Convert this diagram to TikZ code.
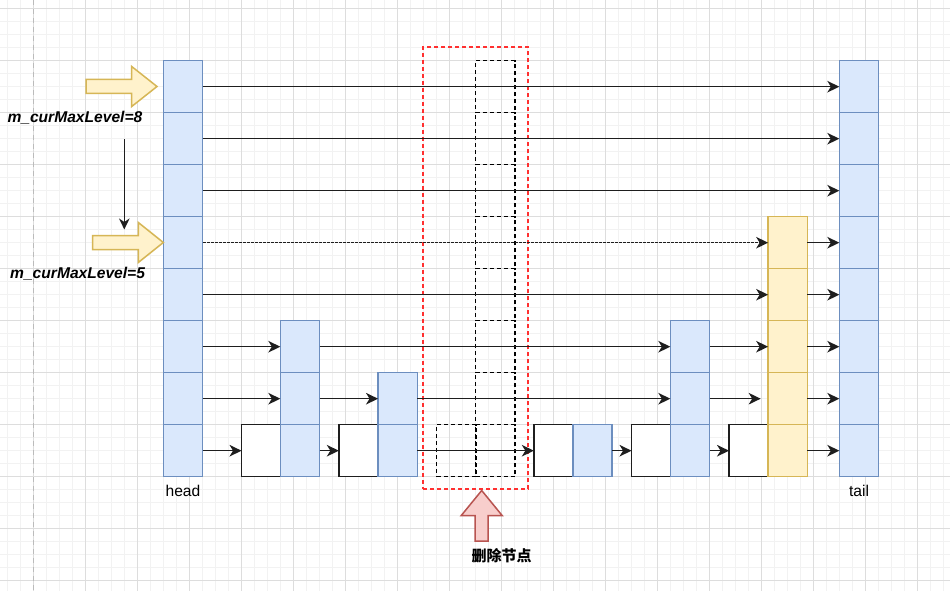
\documentclass[tikz,border=0pt]{standalone}
\usepackage{fontspec}
\setmainfont{Liberation Sans}
\newfontfamily\cjk{Noto Sans CJK SC}
\usetikzlibrary{arrows.meta}
\definecolor{bfill}{HTML}{DAE8FC}
\definecolor{bline}{HTML}{6C8EBF}
\definecolor{yfill}{HTML}{FFF2CC}
\definecolor{yline}{HTML}{D6B656}
\definecolor{rfill}{HTML}{F8CECC}
\definecolor{rline}{HTML}{B85450}
\definecolor{gmin}{HTML}{F2F2F2}
\definecolor{gmaj}{HTML}{DDDDDD}
\definecolor{pagebrk}{HTML}{BBBBBB}
\definecolor{delred}{HTML}{FF3030}
\definecolor{ink}{HTML}{1E1E1E}
\begin{document}
\begin{tikzpicture}[x=1pt,y=-1pt,
  cell/.style={minimum width=39.3pt,minimum height=52pt,inner sep=0pt,outer sep=0pt,line width=1.5pt},
  bcell/.style={cell,draw=bline,fill=bfill},
  ycell/.style={cell,draw=yline,fill=yfill},
  wcell/.style={cell,draw=ink,fill=white},
  dcell/.style={cell,draw=black,dash pattern=on 4pt off 3pt},
  arr/.style={-{Stealth[length=12pt,width=11.5pt,inset=3.5pt]},line width=1.5pt,draw=ink},
  densedash/.style={dash pattern=on 3pt off 1pt},
  lbl/.style={inner sep=0pt,font=\fontsize{15.6}{18}\selectfont},
  blockarrow/.style={line width=1.5pt,line join=miter},
  delframe/.style={draw=delred,line width=1.8pt,dash pattern=on 4pt off 3pt,inner sep=0pt,outer sep=0pt}
]
\useasboundingbox (0,0) rectangle (950,591);
\fill[white] (0,0) rectangle (950,591);
% grid
\foreach \k in {-2,...,70} \draw[gmin,line width=1.3pt] ({33.7+13*\k},0) -- ({33.7+13*\k},591);
\foreach \k in {0,...,44} \draw[gmin,line width=1.3pt] (0,{8.3+13*\k}) -- (950,{8.3+13*\k});
\foreach \k in {-1,...,17} \draw[gmaj,line width=1.3pt] ({33.7+52*\k},0) -- ({33.7+52*\k},591);
\foreach \k in {0,...,11} \draw[gmaj,line width=1.3pt] (0,{8.3+52*\k}) -- (950,{8.3+52*\k});
\draw[pagebrk,line width=1.3pt,dash pattern=on 5pt off 4pt] (33.5,0) -- (33.5,591);

% deleted node marker
\node[delframe,minimum width=105pt,minimum height=442pt] (delbox) at (475.5,268) {};
\foreach \i in {0,...,7} \node[dcell] (x\i) at (495.2,{86.7+52*\i}) {};
\node[dcell] (wx) at (456.2,450.7) {};

% head and tail
\foreach \i in {0,...,7} {
  \node[bcell] (h\i) at (183,{86.7+52*\i}) {};
  \node[bcell] (t\i) at (859,{86.7+52*\i}) {};
}
% node 1
\node[wcell] (wa) at (261.2,450.7) {};
\foreach \i in {5,6,7} \node[bcell] (a\i) at (300,{86.7+52*\i}) {};
% node 2
\node[wcell] (wb) at (358.5,450.7) {};
\foreach \i in {6,7} \node[bcell] (b\i) at (397.7,{86.7+52*\i}) {};
% node 3
\node[wcell] (wc) at (553.5,450.7) {};
\node[bcell] (c7) at (592.5,450.7) {};
% node 4
\node[wcell] (wd) at (651.2,450.7) {};
\foreach \i in {5,6,7} \node[bcell] (d\i) at (690,{86.7+52*\i}) {};
% node 5
\node[wcell] (we) at (748.7,450.7) {};
\foreach \i in {3,...,7} \node[ycell] (y\i) at (787.8,{86.7+52*\i}) {};

% labels
\node[lbl,anchor=base] (headlbl) at (183,496.5) {head};
\node[lbl,anchor=base] (taillbl) at (859,496.5) {tail};
\node[lbl,anchor=base west,font=\fontsize{15.6}{18}\selectfont\bfseries\itshape] (lv8) at (7.3,122.7) {m\_curMaxLevel=8};
\node[lbl,anchor=base west,font=\fontsize{15.6}{18}\selectfont\bfseries\itshape] (lv5) at (10,278.7) {m\_curMaxLevel=5};
\node[lbl,font=\fontsize{15}{18}\selectfont\cjk\bfseries] (dellbl) at (501.7,555.5) {删除节点};

% connectors
\foreach \i in {0,1,2} \draw[arr] (h\i.east) -- (t\i.west);
\draw[arr,densedash] (h3.east) -- (y3.west);
\draw[arr] (h4.east) -- (y4.west);
\foreach \i in {3,...,7} \draw[arr] (y\i.east) -- (t\i.west);
\draw[arr] (h5.east) -- (a5.west);
\draw[arr] (a5.east) -- (d5.west);
\draw[arr] (d5.east) -- (y5.west);
\draw[arr] (h6.east) -- (a6.west);
\draw[arr] (a6.east) -- (b6.west);
\draw[arr] (b6.east) -- (d6.west);
\coordinate (e6) at (760.7,398.7);
\draw[arr] (d6.east) -- (e6);
\draw[arr] (h7.east) -- (wa.west);
\draw[arr] (a7.east) -- (wb.west);
\draw[arr] (b7.east) -- (wc.west);
\draw[arr] (c7.east) -- (wd.west);
\draw[arr] (d7.east) -- (we.west);

\coordinate (vtop) at (124.3,139.3);
\coordinate (vbot) at (124.3,229.5);
\draw[arr,-{Stealth[length=11pt,width=10.5pt,inset=3.5pt]}] (vtop) -- (vbot);

% block arrows
\draw[blockarrow,draw=yline,fill=yfill] (86,79.5) -- (131.7,79.5) -- (131.7,66.5) -- (157,86.5) -- (131.7,106.5) -- (131.7,93.5) -- (86,93.5) -- cycle;
\draw[blockarrow,draw=yline,fill=yfill] (92.7,235.5) -- (138.3,235.5) -- (138.3,222.5) -- (163.3,242.5) -- (138.3,262.5) -- (138.3,249.5) -- (92.7,249.5) -- cycle;
\draw[blockarrow,draw=rline,fill=rfill] (481.7,490.5) -- (502.3,515.7) -- (488.2,515.7) -- (488.2,541) -- (475.2,541) -- (475.2,515.7) -- (461.1,515.7) -- cycle;
\end{tikzpicture}
\end{document}
